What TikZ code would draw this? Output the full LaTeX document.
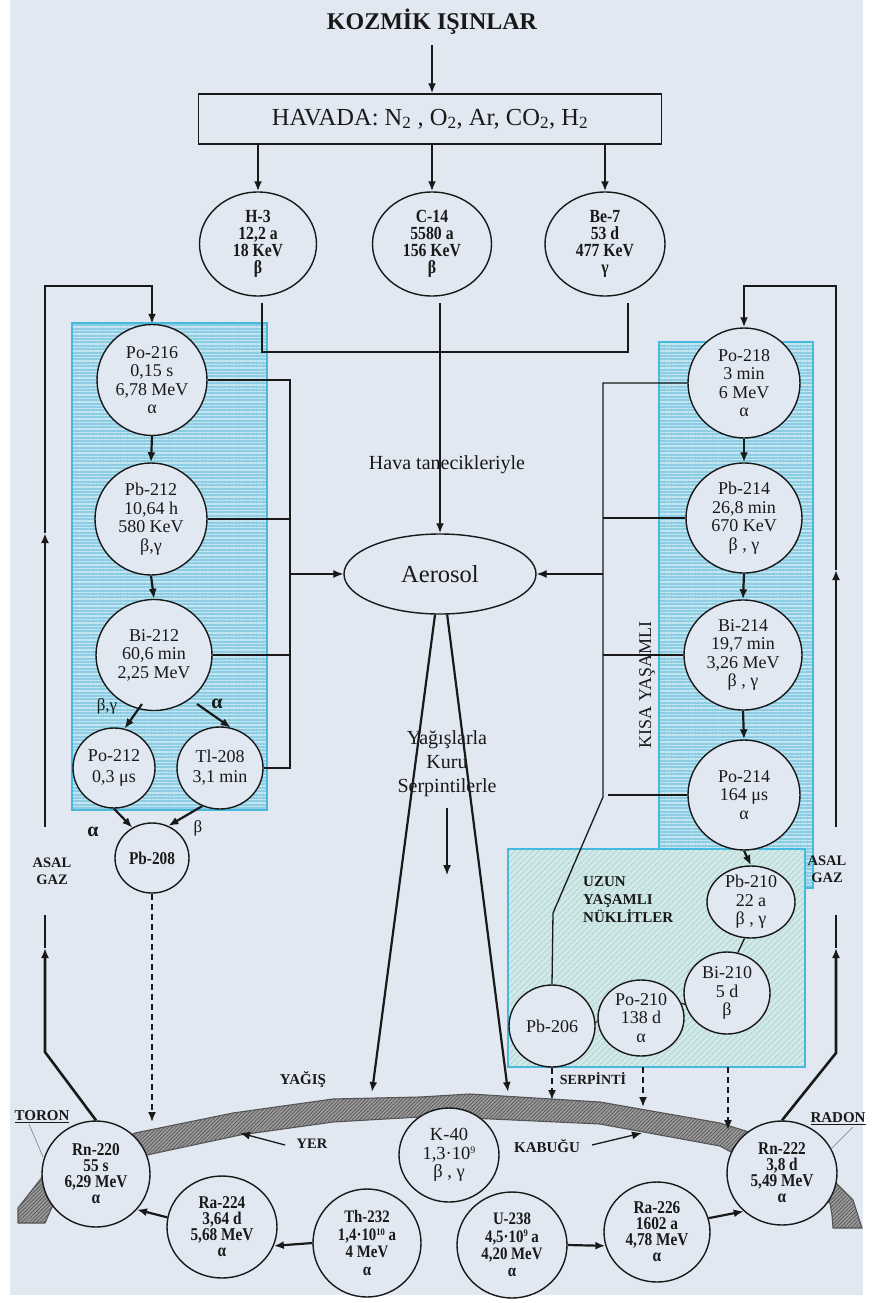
\documentclass[tikz,border=0pt]{standalone}
\usepackage{fontspec}
\setmainfont{Liberation Serif}
\newfontfamily\condf[FakeStretch=0.85]{Liberation Serif}
\usetikzlibrary{arrows.meta,shapes.geometric,patterns.meta}
\definecolor{bgc}{RGB}{225,232,242}
\definecolor{linec}{RGB}{25,25,25}
\definecolor{blueb}{RGB}{140,205,228}
\definecolor{bluel}{RGB}{198,231,242}
\definecolor{bluer}{RGB}{70,185,220}
\definecolor{greenb}{RGB}{210,233,231}
\definecolor{greenl}{RGB}{172,212,212}
\definecolor{bandc}{RGB}{155,155,155}
\definecolor{bandl}{RGB}{85,85,85}
\newcommand{\supr}[1]{\raisebox{0.3em}{\fontsize{10}{10}\selectfont #1}}
\tikzset{
  nuc/.style={ellipse, draw=linec, line width=1.4pt, fill=bgc, inner sep=-4pt, align=center, text=linec, font=\fontsize{18}{18.5}\selectfont},
  nucb/.style={nuc, font=\condf\fontsize{18}{16}\selectfont\bfseries},
  nuct/.style={nuc, font=\condf\fontsize{18.5}{16.8}\selectfont\bfseries},
  sz/.style 2 args={minimum width=#1pt, minimum height=#2pt},
  thk/.style={line width=2.2pt, draw=linec},
  lp/.style={line width=2.6pt, draw=linec},
  bus/.style={line width=1.3pt, draw=linec},
  dsh/.style={line width=1.8pt, dash pattern=on 6pt off 4pt, draw=linec},
  lbl/.style={font=\fontsize{15}{17}\selectfont\bfseries, inner sep=0pt, align=center, text=linec},
  txt/.style={font=\fontsize{20}{24}\selectfont, inner sep=0pt, align=center, text=linec},
  gk/.style={font=\fontsize{17}{18}\selectfont, inner sep=0pt, text=linec},
  gkb/.style={font=\fontsize{20}{20}\selectfont\bfseries, inner sep=0pt, text=linec},
}
\begin{document}
\begin{tikzpicture}[x=1pt,y=-1pt,>={Latex[length=10pt,width=8pt]}]
\useasboundingbox (0,0) rectangle (874,1303);
\fill[bgc] (10,0) rectangle (863,1295);

% shaded boxes
\fill[blueb] (72,323) rectangle (267,810);
\path[pattern={Lines[angle=0,distance=3.4pt,line width=1.4pt]},pattern color=bluel] (72,323) rectangle (267,810);
\draw[bluer,line width=1.5pt] (72,323) rectangle (267,810);
\fill[blueb] (659,342) rectangle (813,888);
\path[pattern={Lines[angle=0,distance=3.4pt,line width=1.4pt]},pattern color=bluel] (659,342) rectangle (813,888);
\draw[bluer,line width=1.5pt] (659,342) rectangle (813,888);
\fill[greenb] (508,849) rectangle (805,1067);
\path[pattern={Lines[angle=45,distance=4pt,line width=1.1pt]},pattern color=greenl] (508,849) rectangle (805,1067);
\draw[bluer,line width=1.5pt] (508,849) rectangle (805,1067);

% earth crust band
\fill[bandc] (18,1208) -- (43,1176) -- (96,1152) -- (135,1133) -- (233,1113) -- (333,1099) -- (420,1097) -- (470,1094) -- (600,1102) -- (720,1123) -- (752,1133) -- (782,1150) -- (835,1182) -- (853,1200) -- (862,1228) -- (833,1228) -- (832,1215) -- (830,1203) -- (782,1176) -- (733,1153) -- (720,1146) -- (600,1124) -- (470,1118) -- (420,1117) -- (333,1122) -- (240,1135) -- (147,1155) -- (96,1178) -- (52,1207) -- (45,1223) -- (18,1223) -- cycle;
\path[pattern={Lines[angle=45,distance=2.6pt,line width=0.7pt]},pattern color=bandl] (18,1208) -- (43,1176) -- (96,1152) -- (135,1133) -- (233,1113) -- (333,1099) -- (420,1097) -- (470,1094) -- (600,1102) -- (720,1123) -- (752,1133) -- (782,1150) -- (835,1182) -- (853,1200) -- (862,1228) -- (833,1228) -- (832,1215) -- (830,1203) -- (782,1176) -- (733,1153) -- (720,1146) -- (600,1124) -- (470,1118) -- (420,1117) -- (333,1122) -- (240,1135) -- (147,1155) -- (96,1178) -- (52,1207) -- (45,1223) -- (18,1223) -- cycle;
\draw[bandl,line width=1.1pt,line join=round] (18,1208) -- (43,1176) -- (96,1152) -- (135,1133) -- (233,1113) -- (333,1099) -- (420,1097) -- (470,1094) -- (600,1102) -- (720,1123) -- (752,1133) -- (782,1150) -- (835,1182) -- (853,1200) -- (862,1228) -- (833,1228) -- (832,1215) -- (830,1203) -- (782,1176) -- (733,1153) -- (720,1146) -- (600,1124) -- (470,1118) -- (420,1117) -- (333,1122) -- (240,1135) -- (147,1155) -- (96,1178) -- (52,1207) -- (45,1223) -- (18,1223) -- cycle;

% top
\node[font=\fontsize{24}{26}\selectfont\bfseries, text=linec] (title) at (432,22) {KOZMİK IŞINLAR};
\node[draw=linec, line width=1.4pt, fill=bgc, minimum width=463pt, minimum height=50pt, font=\fontsize{24.5}{26}\selectfont, text=linec] (havada) at (430,119) {HAVADA: N\textsubscript{2} , O\textsubscript{2}, Ar, CO\textsubscript{2}, H\textsubscript{2}};
\node[nuct, sz={117}{104}] (H3) at (258,244) {H-3\\12,2 a\\18 KeV\\β};
\node[nuct, sz={119}{104}] (C14) at (432,244) {C-14\\5580 a\\156 KeV\\β};
\node[nuct, sz={120}{104}] (Be7) at (605,244) {Be-7\\53 d\\477 KeV\\γ};

% left chain
\node[nuc, sz={110}{111}] (Po216) at (152,380) {Po-216\\0,15 s\\6,78 MeV\\α};
\node[nuc, sz={112}{112}] (Pb212) at (151,519) {Pb-212\\10,64 h\\580 KeV\\β,γ};
\node[nuc, sz={116}{111}] (Bi212) at (154,655) {Bi-212\\60,6 min\\2,25 MeV};
\node[nuc, sz={82}{80}, font=\fontsize{18}{21}\selectfont] (Po212) at (114,768) {Po-212\\0,3 μs};
\node[nuc, sz={86}{82}, font=\fontsize{18}{20}\selectfont] (Tl208) at (220,768) {Tl-208\\3,1 min};
\node[nucb, sz={74}{70}] (Pb208) at (152,858) {Pb-208};

% right chain
\node[nuc, sz={112}{110}] (Po218) at (744,383) {Po-218\\3 min\\6 MeV\\α};
\node[nuc, sz={116}{110}] (Pb214) at (744,518) {Pb-214\\26,8 min\\670 KeV\\β , γ};
\node[nuc, sz={118}{110}] (Bi214) at (743,655) {Bi-214\\19,7 min\\3,26 MeV\\β , γ};
\node[nuc, sz={112}{110}] (Po214) at (744,795) {Po-214\\164 μs\\α};
\node[nuc, sz={88}{72}] (Pb210) at (751,902) {Pb-210\\22 a\\β , γ};
\node[nuc, sz={86}{82}] (Bi210) at (727,993) {Bi-210\\5 d\\β};
\node[nuc, sz={86}{76}] (Po210) at (641,1018) {Po-210\\138 d\\α};
\node[nuc, sz={86}{82}] (Pb206) at (552,1026) {Pb-206};

% middle
\node[ellipse, draw=linec, line width=1.4pt, fill=bgc, minimum width=192pt, minimum height=80pt, inner sep=0pt, font=\fontsize{24.5}{26}\selectfont, text=linec] (aerosol) at (440,574) {Aerosol};
\node[txt] (hava) at (447,465) {Hava tanecikleriyle};
\node[txt] (yagis) at (447,764) {Yağışlarla\\Kuru\\Serpintilerle};
\node[rotate=90, font=\fontsize{18}{18}\selectfont, inner sep=0pt, text=linec] (kisa) at (647,685) {KISA YAŞAMLI};
\node[lbl, anchor=west, align=left, font=\fontsize{15}{18}\selectfont\bfseries] (uzun) at (583,900) {UZUN\\YAŞAMLI\\NÜKLİTLER};
\node[lbl, font=\fontsize{14.5}{17}\selectfont\bfseries] (asalL) at (52,871) {ASAL\\GAZ};
\node[lbl, font=\fontsize{14.5}{17}\selectfont\bfseries] (asalR) at (827,869) {ASAL\\GAZ};

% bottom
\node[nucb, sz={108}{106}] (Rn220) at (96,1174) {Rn-220\\55 s\\6,29 MeV\\α};
\node[nucb, sz={110}{102}] (Ra224) at (222,1227) {Ra-224\\3,64 d\\5,68 MeV\\α};
\node[nucb, sz={108}{108}, font=\condf\fontsize{17.5}{17.5}\selectfont\bfseries] (Th232) at (367,1243) {Th-232\\1,4·10\supr{10} a\\4 MeV\\α};
\node[nuc, sz={100}{94}, font=\fontsize{18.5}{18.5}\selectfont] (K40) at (449,1155) {K-40\\1,3·10\supr{9}\\β , γ};
\node[nucb, sz={110}{106}, font=\condf\fontsize{17.5}{17.5}\selectfont\bfseries] (U238) at (512,1245) {U-238\\4,5·10\supr{9} a\\4,20 MeV\\α};
\node[nucb, sz={106}{100}] (Ra226) at (657,1232) {Ra-226\\1602 a\\4,78 MeV\\α};
\node[nucb, sz={110}{104}] (Rn222) at (782,1173) {Rn-222\\3,8 d\\5,49 MeV\\α};

\node[lbl] (toron) at (42,1117) {\underline{TORON}};
\node[lbl] (radon) at (838,1119) {\underline{RADON}};
\node[lbl, font=\fontsize{14.5}{17}\selectfont\bfseries] (yer) at (312,1144) {YER};
\node[lbl] (kabugu) at (547,1146) {KABUĞU};
\node[lbl] (yagislbl) at (303,1080) {YAĞIŞ};
\node[lbl, font=\fontsize{14}{17}\selectfont\bfseries] (serpinti) at (593,1079) {SERPİNTİ};

% decay labels
\node[gk] (lbg) at (107,706) {β,γ};
\node[gkb] (la1) at (217,704) {α};
\node[gkb] (la2) at (93,832) {α};
\node[gk] (lb2) at (198,828) {β};

% coordinates
\coordinate (ta) at (432,45);
\coordinate (h3d) at (262,303);
\coordinate (hbl) at (262,352);
\coordinate (hbr) at (628,352);
\coordinate (b7d) at (628,303);
\coordinate (c14d) at (440,303);
\coordinate (lbus) at (290,0);
\coordinate (rbus) at (603,0);
\coordinate (rk1) at (603,797);
\coordinate (rk2) at (553,913);
\coordinate (p4e) at (608,795);
\coordinate (bt1) at (142,704);
\coordinate (bt2) at (197,704);
\coordinate (yl) at (372,1092);
\coordinate (yr) at (508,1092);
\coordinate (sa1) at (447,808);
\coordinate (sa2) at (447,875);
\coordinate (pbd) at (152,1122);
\coordinate (s1) at (552,1100);
\coordinate (g1) at (643,1067);
\coordinate (g1e) at (643,1107);
\coordinate (g2) at (728,1067);
\coordinate (g2e) at (728,1130);
\coordinate (yerS) at (285,1145);
\coordinate (yerT) at (240,1133);
\coordinate (kabS) at (592,1145);
\coordinate (kabT) at (642,1133);
\coordinate (lA) at (45,1052);
\coordinate (lB) at (45,948);
\coordinate (lC) at (45,915);
\coordinate (lD) at (45,827);
\coordinate (lE) at (45,533);
\coordinate (lF) at (45,286);
\coordinate (rA) at (836,1053);
\coordinate (rB) at (836,948);
\coordinate (rC) at (836,915);
\coordinate (rD) at (836,827);
\coordinate (rE) at (836,570);
\coordinate (rF) at (836,286);
\coordinate (tgA) at (29,1124);
\coordinate (tgB) at (43,1157);
\coordinate (rgA) at (853,1127);
\coordinate (rgB) at (830,1150);

% top connectors
\draw[thk,->] (ta) -- (ta |- havada.north);
\draw[thk,->] (H3.north |- havada.south) -- (H3.north);
\draw[thk,->] (C14.north |- havada.south) -- (C14.north);
\draw[thk,->] (Be7.north |- havada.south) -- (Be7.north);
\draw[bus] (h3d) -- (hbl) -- (hbr) -- (b7d);
\draw[thk,->] (c14d) -- (aerosol.north);

% left chain connectors
\draw[thk,->] (Po216.south) -- (Pb212.north);
\draw[thk,->] (Pb212.south) -- (Bi212.north);
\draw[thk,->] (bt1) -- (Po212.75);
\draw[thk,->] (bt2) -- (Tl208.75);
\draw[thk,->] (Po212.-90) -- (Pb208.123);
\draw[thk,->] (Tl208.-115) -- (Pb208.63);
\draw[bus] (Po216.east) -- (Po216.east -| lbus) -- (Tl208.east -| lbus) -- (Tl208.east);
\draw[bus] (Pb212.east) -- (Pb212.east -| lbus);
\draw[bus] (Bi212.east) -- (Bi212.east -| lbus);
\draw[bus,->] (aerosol.west -| lbus) -- (aerosol.west);

% right chain connectors
\draw[thk,->] (Po218.south) -- (Pb214.north);
\draw[thk,->] (Pb214.south) -- (Bi214.north);
\draw[thk,->] (Bi214.south) -- (Po214.north);
\draw[thk,->] (Po214.south) -- (Pb210.north);
\draw[bus] (Pb210.-100) -- (Bi210.75);
\draw[bus] (Bi210.195) -- (Po210.20);
\draw[bus] (Po210.185) -- (Pb206.5);
\draw[bus] (Po218.west) -- (Po218.west -| rbus) -- (rk1) -- (rk2) -- (Pb206.north);
\draw[bus] (Pb214.west) -- (Pb214.west -| rbus);
\draw[bus] (Bi214.west) -- (Bi214.west -| rbus);
\draw[bus] (Po214.west) -- (p4e);
\draw[bus,->] (aerosol.east -| rbus) -- (aerosol.east);

% aerosol to ground
\draw[thk,->] (aerosol.-97) -- (yl);
\draw[thk,->] (aerosol.-80) -- (yr);
\draw[bus,->] (sa1) -- (sa2);

% dashed deposits
\draw[dsh,->] (Pb208.south) -- (pbd);
\draw[dsh,->] (Pb206.south) -- (s1);
\draw[dsh,->] (g1) -- (g1e);
\draw[dsh,->] (g2) -- (g2e);

% crust labels arrows
\draw[bus,->] (yerS) -- (yerT);
\draw[bus,->] (kabS) -- (kabT);
\draw[gray,line width=0.6pt] (tgA) -- (tgB);
\draw[gray,line width=0.6pt] (rgA) -- (rgB);

% bottom decay arrows
\draw[thk,->] (Th232.west) -- (Ra224.-20);
\draw[thk,->] (Ra224.170) -- (Rn220.-41);
\draw[thk,->] (U238.east) -- (Ra226.195);
\draw[thk,->] (Ra226.15) -- (Rn222.225);

% noble gas loops
\draw[lp,->] (Rn220.north) -- (lA) -- (lB);
\draw[lp] (lB) -- (lC);
\draw[lp,->] (lD) -- (lE);
\draw[lp,->] (lE) -- (lF) -| (Po216.north);
\draw[lp,->] (Rn222.north) -- (rA) -- (rB);
\draw[lp] (rB) -- (rC);
\draw[lp,->] (rD) -- (rE);
\draw[lp,->] (rE) -- (rF) -| (Po218.north);
\end{tikzpicture}
\end{document}
